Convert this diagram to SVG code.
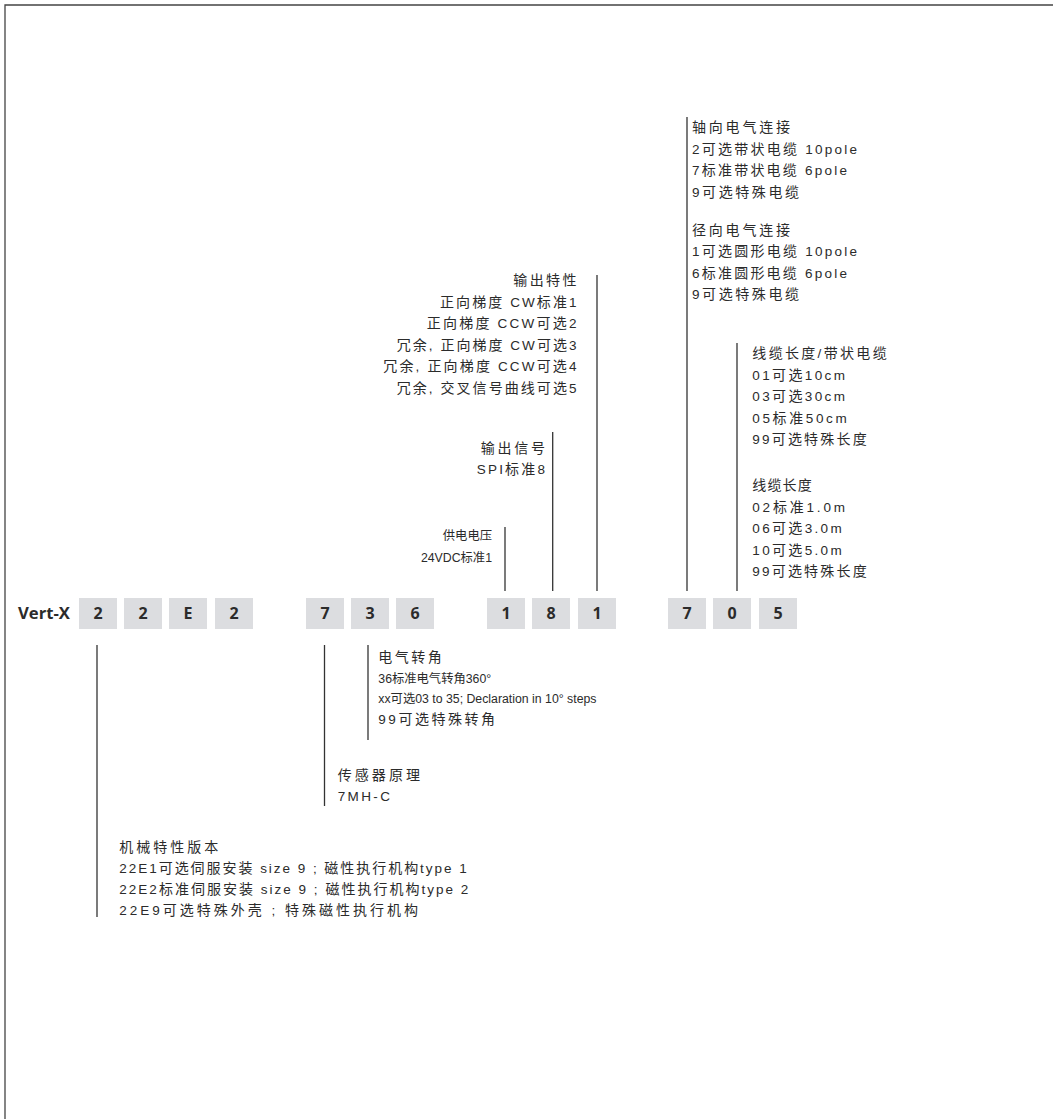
<svg xmlns="http://www.w3.org/2000/svg" width="1053" height="1119" viewBox="0 0 1053 1119">
<style>
.t{font-family:"Liberation Sans","Noto Sans CJK SC",sans-serif;font-size:13.5px;fill:#2b2b2b}
.k{font-family:"Noto Sans CJK SC",sans-serif;font-size:14px}
.s{font-size:12.3px}
.e{text-anchor:end}
.b{fill:#dcdde0}
.d{font-family:"Open Sans","Liberation Sans",sans-serif;font-size:16px;font-weight:bold;fill:#2b2b2b;text-anchor:middle}
.c{stroke:#333;stroke-width:1.3;fill:none}
</style>
<rect width="1053" height="1119" fill="#fff"/>
<path d="M5,1119 V5 H1053" stroke="#444" stroke-width="1.3" fill="none"/>
<g id="code">
<text x="18" y="619" class="d" style="text-anchor:start" textLength="52" lengthAdjust="spacingAndGlyphs">Vert-X</text>
<rect class="b" x="79" y="598" width="38" height="31"/><text class="d" x="98" y="619">2</text>
<rect class="b" x="124" y="598" width="38" height="31"/><text class="d" x="143" y="619">2</text>
<rect class="b" x="169" y="598" width="38" height="31"/><text class="d" x="188" y="619">E</text>
<rect class="b" x="215" y="598" width="38" height="31"/><text class="d" x="234" y="619">2</text>
<rect class="b" x="306" y="598" width="38" height="31"/><text class="d" x="325" y="619">7</text>
<rect class="b" x="351" y="598" width="38" height="31"/><text class="d" x="370" y="619">3</text>
<rect class="b" x="396" y="598" width="38" height="31"/><text class="d" x="415" y="619">6</text>
<rect class="b" x="487" y="598" width="38" height="31"/><text class="d" x="506" y="619">1</text>
<rect class="b" x="532" y="598" width="38" height="31"/><text class="d" x="551" y="619">8</text>
<rect class="b" x="578" y="598" width="38" height="31"/><text class="d" x="597" y="619">1</text>
<rect class="b" x="668" y="598" width="38" height="31"/><text class="d" x="687" y="619">7</text>
<rect class="b" x="713" y="598" width="38" height="31"/><text class="d" x="732" y="619">0</text>
<rect class="b" x="759" y="598" width="38" height="31"/><text class="d" x="778" y="619">5</text>
</g>
<g id="connectors">
<line class="c" x1="97" y1="645" x2="97" y2="917"/>
<line class="c" x1="324.5" y1="645" x2="324.5" y2="806"/>
<line class="c" x1="368" y1="645" x2="368" y2="740"/>
<line class="c" x1="505" y1="527" x2="505" y2="591"/>
<line class="c" x1="552.7" y1="432" x2="552.7" y2="591"/>
<line class="c" x1="597" y1="275" x2="597" y2="591"/>
<line class="c" x1="687" y1="117" x2="687" y2="591"/>
<line class="c" x1="737" y1="343" x2="737" y2="591"/>
</g>
<g id="connection">
<text class="t" x="692" y="132" textLength="98"><tspan class="k">轴向电气连接</tspan></text>
<text class="t" x="692" y="153.5" textLength="165">2<tspan class="k">可选带状电缆</tspan> 10pole</text>
<text class="t" x="692" y="175" textLength="155">7<tspan class="k">标准带状电缆</tspan> 6pole</text>
<text class="t" x="692" y="196.5" textLength="107">9<tspan class="k">可选特殊电缆</tspan></text>
<text class="t" x="692" y="234.5" textLength="98"><tspan class="k">径向电气连接</tspan></text>
<text class="t" x="692" y="256" textLength="165">1<tspan class="k">可选圆形电缆</tspan> 10pole</text>
<text class="t" x="692" y="277.5" textLength="155">6<tspan class="k">标准圆形电缆</tspan> 6pole</text>
<text class="t" x="692" y="299" textLength="107">9<tspan class="k">可选特殊电缆</tspan></text>
</g>
<g id="output-characteristic">
<text class="t" x="513.3" y="285" textLength="63.2"><tspan class="k">输出特性</tspan></text>
<text class="t" x="440" y="306.5" textLength="136.5"><tspan class="k">正向梯度</tspan> CW<tspan class="k">标准</tspan>1</text>
<text class="t" x="426.7" y="328" textLength="149.8"><tspan class="k">正向梯度</tspan> CCW<tspan class="k">可选</tspan>2</text>
<text class="t" x="396.7" y="349.5" textLength="179.8"><tspan class="k">冗余</tspan>, <tspan class="k">正向梯度</tspan> CW<tspan class="k">可选</tspan>3</text>
<text class="t" x="383.3" y="371" textLength="193.2"><tspan class="k">冗余</tspan>, <tspan class="k">正向梯度</tspan> CCW<tspan class="k">可选</tspan>4</text>
<text class="t" x="396.7" y="392.5" textLength="179.8"><tspan class="k">冗余</tspan>, <tspan class="k">交叉信号曲线可选</tspan>5</text>
</g>
<g id="output-signal">
<text class="t" x="480.7" y="452.5" textLength="64.3"><tspan class="k">输出信号</tspan></text>
<text class="t" x="476.7" y="474" textLength="68.3">SPI<tspan class="k">标准</tspan>8</text>
</g>
<g id="supply">
<text class="t s e" x="492" y="540">供电电压</text>
<text class="t s e" x="492" y="561.5">24VDC标准1</text>
</g>
<g id="cable-length">
<text class="t" x="752.3" y="358" textLength="134.4"><tspan class="k">线缆长度</tspan>/<tspan class="k">带状电缆</tspan></text>
<text class="t" x="752.3" y="379.5" textLength="92.7">01<tspan class="k">可选</tspan>10cm</text>
<text class="t" x="752.3" y="401" textLength="92.7">03<tspan class="k">可选</tspan>30cm</text>
<text class="t" x="752.3" y="422.5" textLength="94.4">05<tspan class="k">标准</tspan>50cm</text>
<text class="t" x="752.3" y="444" textLength="114.4">99<tspan class="k">可选特殊长度</tspan></text>
<text class="t" x="752.3" y="490" textLength="59.4"><tspan class="k">线缆长度</tspan></text>
<text class="t" x="752.3" y="511.5" textLength="92.7">02<tspan class="k">标准</tspan>1.0m</text>
<text class="t" x="752.3" y="533" textLength="89.4">06<tspan class="k">可选</tspan>3.0m</text>
<text class="t" x="752.3" y="554.5" textLength="89.4">10<tspan class="k">可选</tspan>5.0m</text>
<text class="t" x="752.3" y="576" textLength="114.4">99<tspan class="k">可选特殊长度</tspan></text>
</g>
<g id="electrical-angle">
<text class="t" x="378.3" y="662" textLength="63.4"><tspan class="k">电气转角</tspan></text>
<text class="t s" x="378.3" y="682.5">36标准电气转角360°</text>
<text class="t s" x="378.3" y="703">xx可选03 to 35; Declaration in 10° steps</text>
<text class="t" x="378.3" y="723.5" textLength="116.7">99<tspan class="k">可选特殊转角</tspan></text>
</g>
<g id="sensor-principle">
<text class="t" x="337.7" y="780" textLength="82.3"><tspan class="k">传感器原理</tspan></text>
<text class="t" x="337.7" y="801" textLength="52.3">7MH-C</text>
</g>
<g id="mechanical-version">
<text class="t" x="119.3" y="852" textLength="99"><tspan class="k">机械特性版本</tspan></text>
<text class="t" x="119.3" y="873" textLength="347.4">22E1<tspan class="k">可选伺服安装</tspan> size 9 ; <tspan class="k">磁性执行机构</tspan>type 1</text>
<text class="t" x="119.3" y="894" textLength="349">22E2<tspan class="k">标准伺服安装</tspan> size 9 ; <tspan class="k">磁性执行机构</tspan>type 2</text>
<text class="t" x="119.3" y="915" textLength="298.7">22E9<tspan class="k">可选特殊外壳</tspan> ; <tspan class="k">特殊磁性执行机构</tspan></text>
</g>
</svg>
